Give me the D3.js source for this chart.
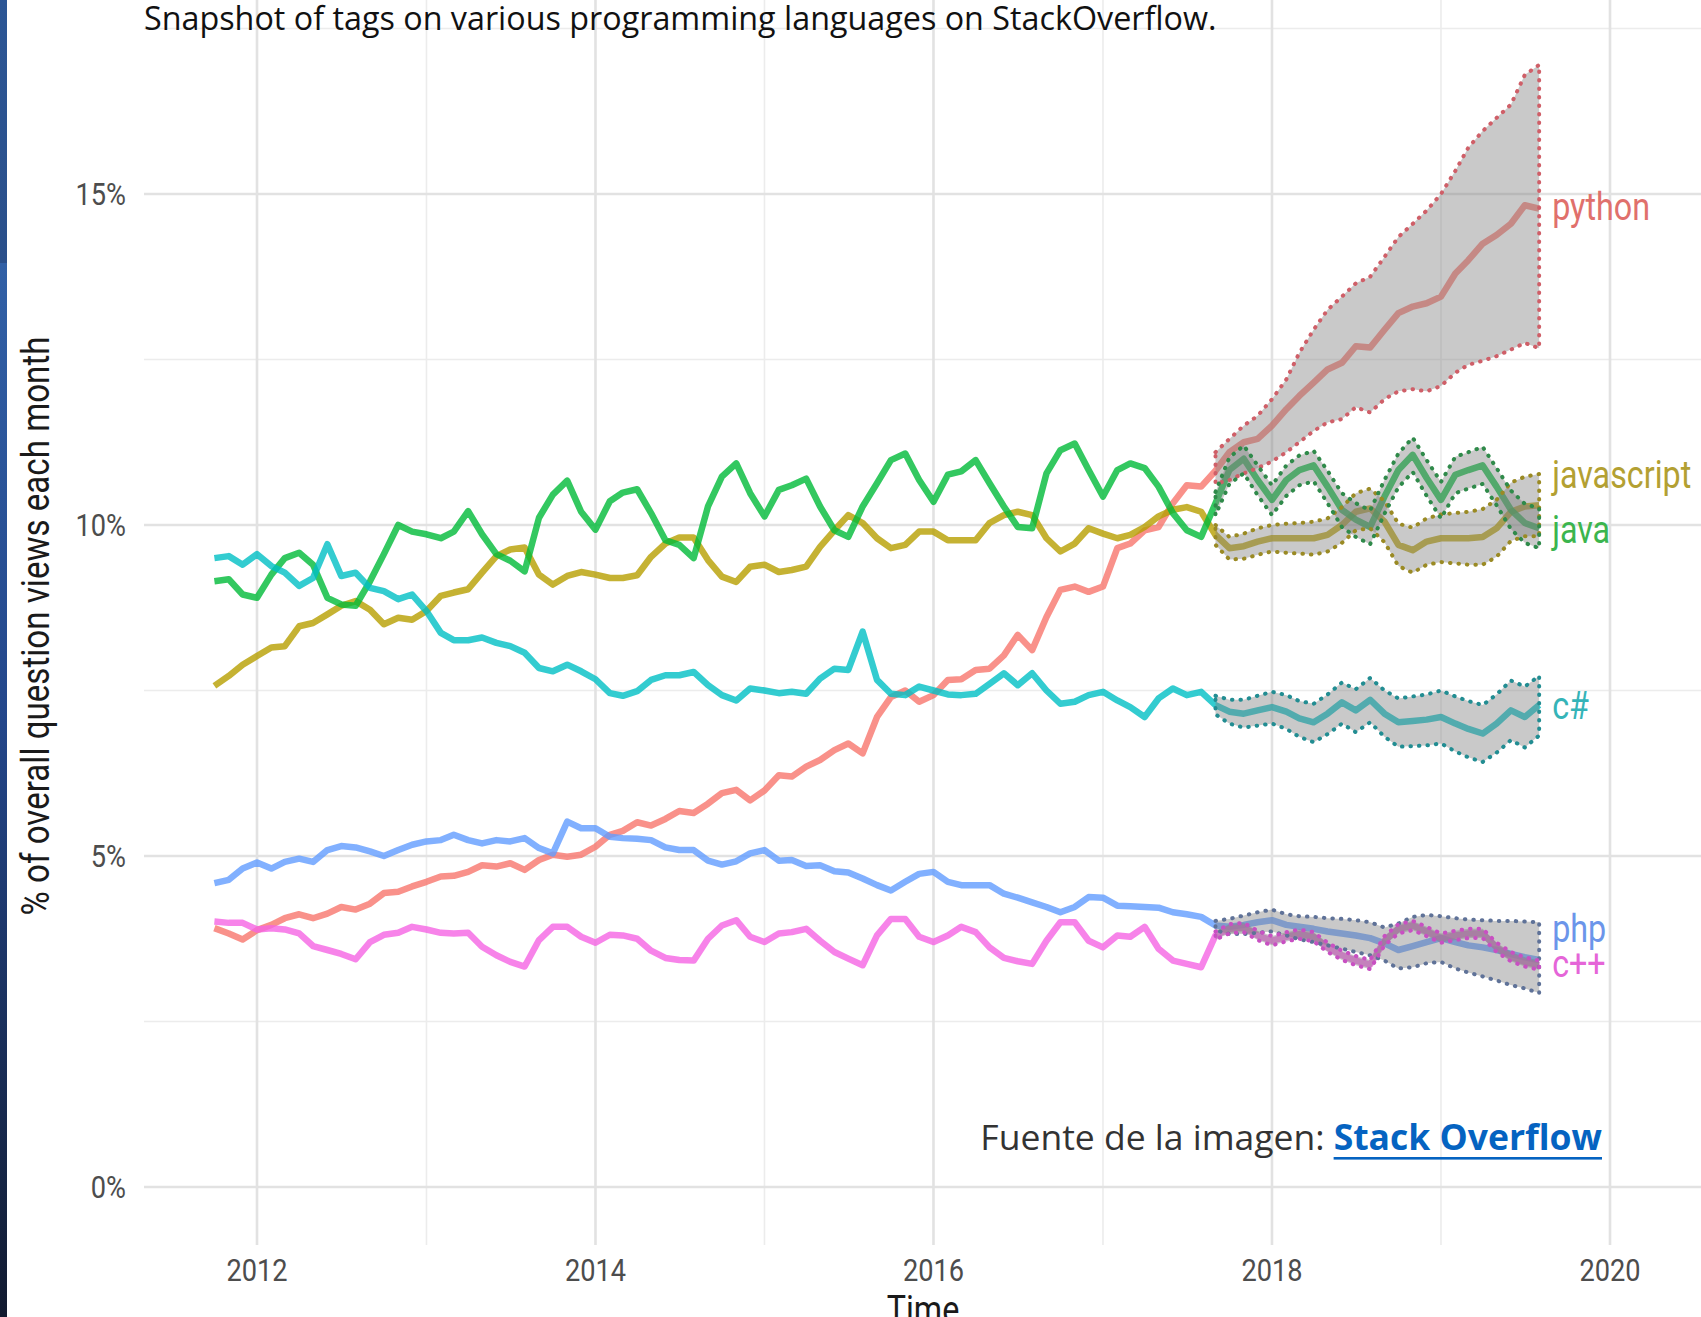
<!DOCTYPE html>
<html>
<head>
<meta charset="utf-8">
<script src="https://cdn.jsdelivr.net/npm/d3@7"></script>
<style>
  body { margin: 0; background: #fff; }
  svg { display: block; }
</style>
</head>
<body>
<div id="chart"></div>
<script>
// share of question views per tag, monthly from Oct 2011
// actual data runs to Aug 2017, forecast Sep 2017 - Aug 2019
const languages = ['python', 'javascript', 'java', 'c#', 'php', 'c++'];
const colors = ['#F8766D', '#B79F00', '#00BA38', '#00BFC4', '#619CFF', '#F564E3'];
const dotColors = ['#cf5f68', '#9a8a24', '#2f8a4a', '#228d92', '#5f7298', '#c850c2'];
const labelColors = ['#e0706c', '#b3a032', '#3bb54e', '#35b4b8', '#6b95ea', '#e565d8'];
const labelPos = [14.78, 10.72, 9.90, 7.23, 3.86, 3.34];

const yTicks = [0, 5, 10, 15];
const yMinor = [2.5, 7.5, 12.5, 17.5];
const xTicks = [2012, 2014, 2016, 2018, 2020];
const xMinor = [2013, 2015, 2017, 2019];

const python = [3.91, 3.83, 3.74, 3.88, 3.96, 4.06, 4.12, 4.06, 4.13, 4.23,
  4.19, 4.28, 4.44, 4.46, 4.54, 4.61, 4.69, 4.70, 4.76, 4.86,
  4.84, 4.89, 4.79, 4.94, 5.02, 4.99, 5.02, 5.14, 5.32, 5.38,
  5.51, 5.46, 5.56, 5.68, 5.65, 5.79, 5.95, 6.00, 5.84, 5.99,
  6.22, 6.20, 6.35, 6.45, 6.60, 6.70, 6.55, 7.10, 7.40, 7.50,
  7.33, 7.43, 7.66, 7.67, 7.81, 7.83, 8.03, 8.34, 8.11, 8.61,
  9.02, 9.07, 8.99, 9.07, 9.65, 9.72, 9.92, 9.97, 10.33, 10.60,
  10.58];
const javascript = [7.57, 7.72, 7.89, 8.02, 8.15, 8.17, 8.47, 8.52, 8.65, 8.78,
  8.85, 8.72, 8.50, 8.60, 8.57, 8.70, 8.93, 8.98, 9.03, 9.28,
  9.53, 9.63, 9.66, 9.25, 9.10, 9.23, 9.29, 9.25, 9.20, 9.20,
  9.24, 9.52, 9.72, 9.81, 9.81, 9.47, 9.22, 9.14, 9.37, 9.40,
  9.29, 9.32, 9.37, 9.67, 9.92, 10.15, 10.03, 9.80, 9.65, 9.70,
  9.90, 9.90, 9.77, 9.77, 9.77, 10.03, 10.15, 10.20, 10.15, 9.80,
  9.60, 9.72, 9.95, 9.87, 9.80, 9.85, 9.97, 10.13, 10.23, 10.27,
  10.20];
const java = [9.15, 9.18, 8.95, 8.90, 9.25, 9.50, 9.58, 9.40, 8.90, 8.80,
  8.78, 9.15, 9.56, 10.00, 9.90, 9.86, 9.80, 9.90, 10.21, 9.86,
  9.56, 9.46, 9.30, 10.11, 10.46, 10.67, 10.20, 9.93, 10.36, 10.49,
  10.54, 10.18, 9.77, 9.70, 9.50, 10.28, 10.73, 10.93, 10.48, 10.13,
  10.53, 10.60, 10.70, 10.28, 9.92, 9.82, 10.28, 10.63, 10.98, 11.08,
  10.68, 10.35, 10.76, 10.81, 10.98, 10.63, 10.28, 9.97, 9.95, 10.78,
  11.13, 11.23, 10.83, 10.43, 10.83, 10.93, 10.86, 10.58, 10.18, 9.92,
  9.82];
const csharp = [9.50, 9.53, 9.40, 9.56, 9.38, 9.28, 9.08, 9.20, 9.71, 9.23,
  9.28, 9.05, 9.00, 8.88, 8.95, 8.70, 8.37, 8.26, 8.26, 8.30,
  8.22, 8.17, 8.07, 7.84, 7.79, 7.89, 7.79, 7.67, 7.46, 7.42,
  7.49, 7.66, 7.73, 7.73, 7.78, 7.58, 7.43, 7.35, 7.53, 7.50,
  7.46, 7.48, 7.45, 7.68, 7.83, 7.81, 8.39, 7.66, 7.45, 7.43,
  7.56, 7.50, 7.44, 7.43, 7.45, 7.60, 7.76, 7.58, 7.76, 7.50,
  7.30, 7.33, 7.43, 7.48, 7.35, 7.25, 7.10, 7.38, 7.53, 7.43,
  7.48];
const php = [4.59, 4.64, 4.81, 4.90, 4.81, 4.91, 4.96, 4.91, 5.09, 5.15,
  5.13, 5.07, 5.00, 5.09, 5.17, 5.22, 5.24, 5.32, 5.24, 5.19,
  5.24, 5.22, 5.27, 5.12, 5.04, 5.52, 5.42, 5.42, 5.29, 5.27,
  5.26, 5.24, 5.13, 5.09, 5.09, 4.93, 4.87, 4.92, 5.04, 5.09,
  4.93, 4.94, 4.85, 4.86, 4.77, 4.75, 4.66, 4.56, 4.48, 4.61,
  4.73, 4.76, 4.61, 4.56, 4.56, 4.56, 4.43, 4.37, 4.30, 4.23,
  4.15, 4.23, 4.38, 4.37, 4.25, 4.24, 4.23, 4.22, 4.15, 4.12,
  4.08];
const cpp = [4.01, 3.99, 3.99, 3.89, 3.91, 3.89, 3.83, 3.64, 3.58, 3.52,
  3.44, 3.70, 3.81, 3.84, 3.93, 3.89, 3.84, 3.83, 3.84, 3.63,
  3.50, 3.40, 3.33, 3.73, 3.93, 3.93, 3.78, 3.69, 3.81, 3.80,
  3.75, 3.57, 3.46, 3.43, 3.42, 3.75, 3.95, 4.03, 3.78, 3.70,
  3.83, 3.85, 3.90, 3.72, 3.55, 3.45, 3.35, 3.80, 4.05, 4.05,
  3.78, 3.70, 3.80, 3.93, 3.85, 3.62, 3.46, 3.41, 3.37, 3.72,
  4.00, 4.00, 3.72, 3.62, 3.80, 3.78, 3.93, 3.60, 3.42, 3.37,
  3.32];

// forecasts (mean, lower, upper), Sep 2017 - Aug 2019
const pythonFc = [10.82, 11.10, 11.25, 11.30, 11.50, 11.75, 11.95, 12.15, 12.35, 12.45, 12.70, 12.68,
  12.95, 13.20, 13.30, 13.35, 13.45, 13.80, 14.00, 14.25, 14.38, 14.55, 14.83, 14.78];
const pythonLo = [10.62, 10.68, 10.78, 10.86, 10.96, 11.10, 11.25, 11.42, 11.55, 11.60, 11.78, 11.70,
  11.90, 12.02, 12.05, 12.02, 12.10, 12.30, 12.42, 12.48, 12.55, 12.65, 12.75, 12.67];
const pythonHi = [11.10, 11.30, 11.50, 11.65, 11.90, 12.20, 12.60, 12.95, 13.25, 13.45, 13.65, 13.75,
  14.05, 14.35, 14.55, 14.75, 15.00, 15.35, 15.70, 15.95, 16.15, 16.35, 16.80, 16.95];

const javascriptFc = [9.85, 9.65, 9.68, 9.75, 9.80, 9.80, 9.80, 9.80, 9.85, 10.00, 10.20, 10.25,
  10.05, 9.70, 9.62, 9.75, 9.80, 9.80, 9.80, 9.82, 9.95, 10.20, 10.28, 10.30];
const javascriptLo = [9.70, 9.48, 9.49, 9.55, 9.60, 9.58, 9.57, 9.55, 9.60, 9.73, 9.92, 9.95,
  9.74, 9.38, 9.28, 9.40, 9.44, 9.42, 9.40, 9.40, 9.52, 9.76, 9.83, 9.83];
const javascriptHi = [10.00, 9.82, 9.87, 9.95, 10.00, 10.02, 10.03, 10.05, 10.10, 10.27, 10.48, 10.55,
  10.36, 10.02, 9.96, 10.10, 10.16, 10.18, 10.20, 10.24, 10.38, 10.64, 10.73, 10.77];

const javaFc = [10.33, 10.83, 11.00, 10.68, 10.38, 10.68, 10.83, 10.90, 10.58, 10.23, 10.08, 9.97,
  10.43, 10.83, 11.06, 10.71, 10.38, 10.76, 10.83, 10.90, 10.58, 10.23, 10.03, 9.95];
const javaLo = [10.15, 10.62, 10.78, 10.45, 10.15, 10.44, 10.60, 10.66, 10.33, 9.97, 9.82, 9.71,
  10.17, 10.57, 10.80, 10.44, 10.10, 10.48, 10.55, 10.62, 10.30, 9.94, 9.73, 9.65];
const javaHi = [10.50, 11.02, 11.20, 10.90, 10.60, 10.90, 11.05, 11.12, 10.82, 10.48, 10.33, 10.22,
  10.68, 11.08, 11.32, 10.98, 10.65, 11.03, 11.10, 11.18, 10.86, 10.52, 10.32, 10.25];

const csharpFc = [7.28, 7.18, 7.15, 7.20, 7.25, 7.18, 7.08, 7.02, 7.15, 7.32, 7.20, 7.36,
  7.15, 7.02, 7.04, 7.06, 7.10, 7.00, 6.92, 6.85, 7.00, 7.20, 7.10, 7.28];
const csharpLo = [7.14, 7.00, 6.94, 6.97, 7.00, 6.92, 6.80, 6.72, 6.84, 7.00, 6.87, 7.02,
  6.80, 6.65, 6.66, 6.67, 6.70, 6.58, 6.49, 6.42, 6.56, 6.75, 6.64, 6.82];
const csharpHi = [7.42, 7.36, 7.36, 7.42, 7.48, 7.43, 7.34, 7.30, 7.44, 7.62, 7.52, 7.69,
  7.50, 7.38, 7.41, 7.44, 7.50, 7.41, 7.34, 7.28, 7.44, 7.65, 7.56, 7.72];

const phpFc = [3.95, 3.93, 3.96, 4.00, 4.03, 3.96, 3.93, 3.90, 3.86, 3.83, 3.80, 3.76,
  3.68, 3.58, 3.64, 3.70, 3.76, 3.70, 3.65, 3.62, 3.58, 3.52, 3.47, 3.43];
const phpLo = [3.88, 3.82, 3.82, 3.84, 3.86, 3.80, 3.74, 3.70, 3.65, 3.60, 3.55, 3.50,
  3.42, 3.30, 3.32, 3.38, 3.40, 3.30, 3.24, 3.18, 3.12, 3.05, 3.00, 2.93];
const phpHi = [4.02, 4.05, 4.10, 4.15, 4.19, 4.12, 4.09, 4.08, 4.06, 4.05, 4.03, 4.00,
  3.92, 3.98, 4.08, 4.11, 4.09, 4.06, 4.04, 4.03, 4.02, 4.02, 4.01, 4.00];

const cppFc = [3.80, 3.90, 3.92, 3.80, 3.72, 3.78, 3.82, 3.78, 3.62, 3.50, 3.42, 3.36,
  3.72, 3.90, 3.95, 3.86, 3.76, 3.80, 3.83, 3.83, 3.62, 3.48, 3.40, 3.35];
const cppLo = [3.74, 3.83, 3.85, 3.73, 3.65, 3.71, 3.75, 3.71, 3.55, 3.43, 3.35, 3.29,
  3.65, 3.83, 3.88, 3.79, 3.69, 3.73, 3.76, 3.76, 3.55, 3.41, 3.33, 3.28];
const cppHi = [3.86, 3.97, 3.99, 3.87, 3.79, 3.85, 3.89, 3.85, 3.69, 3.57, 3.49, 3.43,
  3.79, 3.97, 4.02, 3.93, 3.83, 3.87, 3.90, 3.90, 3.69, 3.55, 3.47, 3.42];

const actuals = [python, javascript, java, csharp, php, cpp];
const means = [pythonFc, javascriptFc, javaFc, csharpFc, phpFc, cppFc];
const lows = [pythonLo, javascriptLo, javaLo, csharpLo, phpLo, cppLo];
const highs = [pythonHi, javascriptHi, javaHi, csharpHi, phpHi, cppHi];

const W = 1701, H = 1317;
const month = (i) => new Date(2011, 9 + i, 1);

const svg = d3.select('#chart').append('svg')
  .attr('width', W)
  .attr('height', H);

// blue strip on the left edge (slide background)
const grad = svg.append('defs').append('linearGradient')
  .attr('id', 'strip').attr('x1', 0).attr('x2', 0).attr('y1', 0).attr('y2', 1);
[[0, '#2c5695'], [0.2, '#2a4f8a'], [0.2, '#3160a6'], [0.55, '#23468a'], [1, '#111a2f']]
  .forEach(([o, c]) => grad.append('stop').attr('offset', o).attr('stop-color', c));
svg.append('rect').attr('x', 0).attr('y', 0).attr('width', 7).attr('height', H).attr('fill', 'url(#strip)');

const x = d3.scaleTime()
  .domain([new Date(2012, 0, 1), new Date(2020, 0, 1)])
  .range([257, 1610]);
const y = d3.scaleLinear()
  .domain([0, 15])
  .range([1187, 194]);

const panelLeft = 144, panelBottom = 1245;

// grid
const grid = svg.append('g');
grid.selectAll('.ymin').data(yMinor).enter().append('line')
  .attr('x1', panelLeft).attr('x2', W)
  .attr('y1', (d) => y(d)).attr('y2', (d) => y(d))
  .attr('stroke', '#ececec').attr('stroke-width', 1.6);
grid.selectAll('.xmin').data(xMinor).enter().append('line')
  .attr('x1', (d) => x(new Date(d, 0, 1))).attr('x2', (d) => x(new Date(d, 0, 1)))
  .attr('y1', 0).attr('y2', panelBottom)
  .attr('stroke', '#ececec').attr('stroke-width', 1.6);
grid.selectAll('.ymaj').data(yTicks).enter().append('line')
  .attr('x1', panelLeft).attr('x2', W)
  .attr('y1', (d) => y(d)).attr('y2', (d) => y(d))
  .attr('stroke', '#e2e2e2').attr('stroke-width', 2.6);
grid.selectAll('.xmaj').data(xTicks).enter().append('line')
  .attr('x1', (d) => x(new Date(d, 0, 1))).attr('x2', (d) => x(new Date(d, 0, 1)))
  .attr('y1', 0).attr('y2', panelBottom)
  .attr('stroke', '#e2e2e2').attr('stroke-width', 2.6);

// actual + forecast mean as one line per tag
const line = d3.line()
  .x((d) => x(d.date))
  .y((d) => y(d.v));

const area = d3.area()
  .x((d) => x(d.date))
  .y0((d) => y(d.lo))
  .y1((d) => y(d.hi));

const series = languages.map((name, i) => {
  const pts = actuals[i].map((v, j) => ({date: month(j), v: v}));
  const n = actuals[i].length;
  means[i].forEach((v, j) => pts.push({date: month(n + j), v: v}));
  const band = means[i].map((v, j) => ({date: month(n + j), lo: lows[i][j], hi: highs[i][j]}));
  return {name: name, i: i, pts: pts, band: band};
});

svg.append('g').selectAll('path').data(series).enter().append('path')
  .attr('d', (d) => line(d.pts))
  .attr('fill', 'none')
  .attr('stroke', (d) => colors[d.i])
  .attr('stroke-opacity', 0.8)
  .attr('stroke-width', 6.5)
  .attr('stroke-linejoin', 'round');

// grey ribbons go over the lines, that's why forecast lines look darker
svg.append('g').selectAll('path').data(series).enter().append('path')
  .attr('d', (d) => area(d.band))
  .attr('fill', '#7f7f7f')
  .attr('fill-opacity', 0.42);

svg.append('g').selectAll('path').data(series).enter().append('path')
  .attr('d', (d) => area(d.band))
  .attr('fill', 'none')
  .attr('stroke', (d) => dotColors[d.i])
  .attr('stroke-width', 4)
  .attr('stroke-dasharray', '0.5,8')
  .attr('stroke-linecap', 'round');

const cond = 'scale(0.85,1)';
const lastDate = month(python.length + pythonFc.length - 1);

// direct labels
svg.append('g').selectAll('text').data(series).enter().append('text')
  .attr('transform', (d) => `translate(${x(lastDate) + 13},${y(labelPos[d.i]) + 11}) ${cond}`)
  .attr('font-family', 'Roboto, sans-serif')
  .attr('font-size', 38)
  .attr('fill', (d) => labelColors[d.i])
  .text((d) => d.name);

// axis labels
svg.append('g').selectAll('text').data(yTicks).enter().append('text')
  .attr('transform', (d) => `translate(126,${y(d) + 11}) ${cond}`)
  .attr('text-anchor', 'end')
  .attr('font-family', 'Roboto, sans-serif')
  .attr('font-size', 32)
  .attr('fill', '#4d4d4d')
  .text((d) => d + '%');

svg.append('g').selectAll('text').data(xTicks).enter().append('text')
  .attr('transform', (d) => `translate(${x(new Date(d, 0, 1))},1281) ${cond}`)
  .attr('text-anchor', 'middle')
  .attr('font-family', 'Roboto, sans-serif')
  .attr('font-size', 32)
  .attr('fill', '#4d4d4d')
  .text((d) => d);

svg.append('text')
  .attr('transform', `translate(49,626) rotate(-90) ${cond}`)
  .attr('text-anchor', 'middle')
  .attr('font-family', 'Roboto, sans-serif')
  .attr('font-size', 39)
  .attr('fill', '#1a1a1a')
  .text('% of overall question views each month');

svg.append('text')
  .attr('transform', `translate(923,1323) ${cond}`)
  .attr('text-anchor', 'middle')
  .attr('font-family', 'Roboto, sans-serif')
  .attr('font-size', 38)
  .attr('fill', '#1a1a1a')
  .text('Time');

// slide text
svg.append('text')
  .attr('x', 144)
  .attr('y', 30)
  .attr('font-family', '"Open Sans", sans-serif')
  .attr('font-size', 32.3)
  .attr('fill', '#111')
  .text('Snapshot of tags on various programming languages on StackOverflow.');

const src = svg.append('g')
  .attr('font-family', '"Open Sans", sans-serif')
  .attr('font-size', 35.5);
const link = src.append('text')
  .attr('x', 1602).attr('y', 1150)
  .attr('text-anchor', 'end')
  .attr('font-weight', 'bold')
  .attr('fill', '#0563c1')
  .text('Stack Overflow');
const linkW = link.node().getComputedTextLength();
src.append('text')
  .attr('x', 1602 - linkW - 9).attr('y', 1150)
  .attr('text-anchor', 'end')
  .attr('fill', '#333')
  .text('Fuente de la imagen:');
src.append('rect')
  .attr('x', 1602 - linkW).attr('y', 1157)
  .attr('width', linkW).attr('height', 2.6)
  .attr('fill', '#0563c1');
</script>
</body>
</html>
